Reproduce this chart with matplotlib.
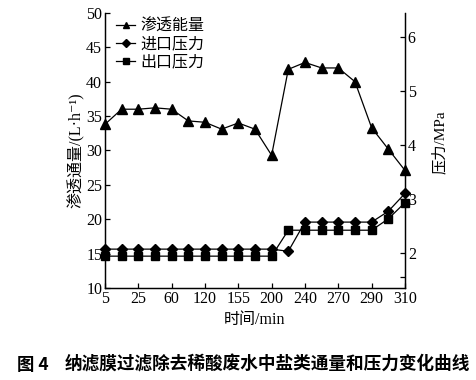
import numpy as np
import matplotlib
matplotlib.use("Agg")
import matplotlib.pyplot as plt

plt.rcParams["font.family"] = ["Liberation Serif", "Noto Sans CJK SC", "DejaVu Serif"]
plt.rcParams["axes.unicode_minus"] = False

# x axis is categorical: 19 sampling points, every other one labelled
tick_labels = ["5", "25", "60", "120", "155", "200", "240", "270", "290", "310"]

# permeate flux, L/h (left axis)
flux = [33.8, 36.0, 36.0, 36.2, 36.0, 34.3, 34.1, 33.1, 34.0, 33.1,
        29.3, 41.8, 42.8, 42.0, 42.0, 40.0, 33.3, 30.2, 27.1]
# inlet / outlet pressure, MPa (right axis)
p_in = [2.07, 2.07, 2.07, 2.07, 2.07, 2.07, 2.07, 2.07, 2.07, 2.07,
        2.07, 2.03, 2.57, 2.57, 2.57, 2.57, 2.57, 2.77, 3.10]
p_out = [1.94, 1.94, 1.94, 1.94, 1.94, 1.94, 1.94, 1.94, 1.94, 1.94,
         1.94, 2.42, 2.42, 2.42, 2.42, 2.42, 2.42, 2.63, 2.93]

x = np.arange(len(flux))

fig = plt.figure(figsize=(4.77, 3.8), dpi=100)
ax = fig.add_axes([0.220, 0.242, 0.629, 0.724])
ax2 = ax.twinx()

l1, = ax.plot(x, flux, color="black", lw=0.9, marker="^", ms=6.5, clip_on=False, zorder=3)
l2, = ax2.plot(x, p_in, color="black", lw=0.9, marker="D", ms=5, clip_on=False)
l3, = ax2.plot(x, p_out, color="black", lw=0.9, marker="s", ms=5.5, clip_on=False)

ax.set_xlim(0, len(flux) - 1)
ax.set_ylim(10, 50)
ax.set_yticks(np.arange(10, 51, 5))
ax.set_xticks(x[::2])
ax.set_xticklabels(tick_labels)

ax2.set_ylim(1.35, 6.44)
ax2.set_yticks([1.55, 2, 3, 4, 5, 6])
ax2.set_yticklabels(["", "2", "3", "4", "5", "6"])

for a in (ax, ax2):
    a.tick_params(direction="in", length=3.5, width=0.9, labelsize=11.5, pad=2)
    for s in a.spines.values():
        s.set_linewidth(0.9)
ax.spines["top"].set_visible(False)
ax2.spines["top"].set_visible(False)

ax.set_ylabel("渗透通量/(L·h⁻¹)", fontsize=11.5, labelpad=1)
ax2.set_ylabel("压力/MPa", fontsize=11, labelpad=6)
ax2.yaxis.set_label_coords(1.09, 0.53)
ax.set_xlabel("时间/min", fontsize=11.5, labelpad=4)

ax.legend([l1, l2, l3], ["渗透能量", "进口压力", "出口压力"],
          loc="upper left", bbox_to_anchor=(0.0, 1.02), frameon=False,
          fontsize=11.5, handlelength=1.2, handletextpad=0.3, markerscale=0.75,
          labelspacing=0.12, borderaxespad=0.3)

cap_font = ["Noto Sans CJK SC"]
fig.text(17 / 477, 0.04, "图 4", ha="left", va="center", fontsize=12.5,
         fontweight="bold", family=cap_font)
fig.text(65 / 477, 0.04, "纳滤膜过滤除去稀酸废水中盐类通量和压力变化曲线",
         ha="left", va="center", fontsize=12.7, fontweight="bold", family=cap_font)

fig.savefig("out.png", dpi=100)
